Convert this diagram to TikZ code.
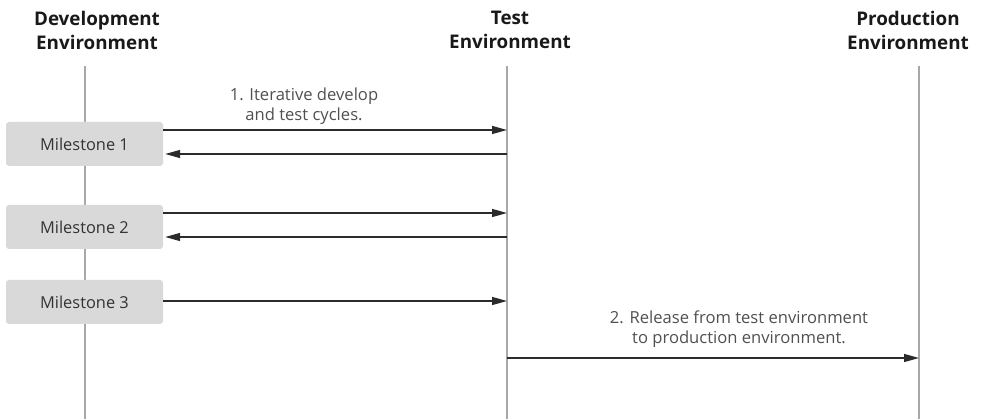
\documentclass[tikz,border=0pt]{standalone}
\usepackage{fontspec}
\setmainfont{Open Sans}
\usetikzlibrary{arrows.meta}

\definecolor{lifegray}{HTML}{A8A8A8}
\definecolor{boxgray}{HTML}{D9D9D9}
\definecolor{msgline}{HTML}{2B2B2B}
\definecolor{labelgray}{HTML}{505050}

\tikzset{
    envhead/.style={align=center,text=black!90,font=\fontsize{18.8}{24}\selectfont\bfseries},
    lifeline/.style={draw=lifegray,line width=1.8pt},
    milestone/.style={fill=boxgray,rounded corners=3pt,minimum width=157pt,minimum height=44pt,
        text=black!80,font=\fontsize{16.4}{19}\selectfont},
    msg/.style={draw=msgline,line width=1.4pt,-{Triangle[length=15pt,width=8pt]}},
    msglabel/.style={align=center,text=labelgray,font=\fontsize{16.6}{20}\selectfont}
}

\begin{document}
\begin{tikzpicture}[x=1pt,y=-1pt]
    \useasboundingbox (0,0) rectangle (990,419);

    % environment headers
    \node[envhead] (devhead) at (97,30) {Development\\Environment};
    \node[envhead] (testhead) at (510,30) {Test\\Environment};
    \node[envhead] (prodhead) at (908,30) {Production\\Environment};

    % lifelines
    \coordinate (devtop) at (85,66);
    \coordinate (devbot) at (85,419);
    \coordinate (testtop) at (507,66);
    \coordinate (testbot) at (507,419);
    \coordinate (prodtop) at (919,66);
    \coordinate (prodbot) at (919,419);
    \draw[lifeline] (devtop) -- (devbot);
    \draw[lifeline] (testtop) -- (testbot);
    \draw[lifeline] (prodtop) -- (prodbot);

    % milestones
    \node[milestone] (ms1) at (84.5,144) {Milestone 1};
    \node[milestone] (ms2) at (84.5,227) {Milestone 2};
    \node[milestone] (ms3) at (84.5,302) {Milestone 3};

    % message points on the test lifeline
    \coordinate (t1) at (507,130);
    \coordinate (t2) at (507,154);
    \coordinate (t3) at (507,213);
    \coordinate (t4) at (507,237);
    \coordinate (t5) at (507,301);
    \coordinate (t6) at (507,358);
    \coordinate (p6) at (919,358);

    \draw[msg] (ms1.east |- t1) -- (t1);
    \draw[msg] (t2) -- ([xshift=2pt]ms1.east |- t2);
    \draw[msg] (ms2.east |- t3) -- (t3);
    \draw[msg] (t4) -- ([xshift=2pt]ms2.east |- t4);
    \draw[msg] (ms3.east |- t5) -- (t5);
    \draw[msg] (t6) -- (p6);

    % labels
    \node[msglabel] (cycles) at (304,106) {1. Iterative develop\\and test cycles.};
    \node[msglabel] (release) at (739,329) {2. Release from test environment\\to production environment.};
\end{tikzpicture}
\end{document}
